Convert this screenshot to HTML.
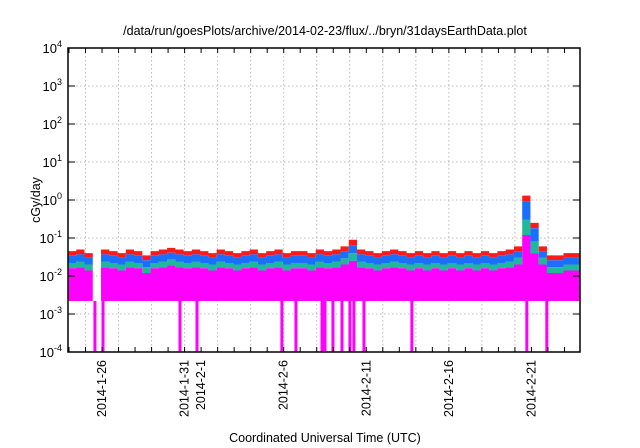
<!DOCTYPE html>
<html><head><meta charset="utf-8"><style>
body{margin:0;background:#fff;}
svg{display:block;font-family:"Liberation Sans",sans-serif;}
</style></head><body>
<svg id="chart" width="640" height="448" viewBox="0 0 640 448">
<text x="325" y="35" font-size="12.5" text-anchor="middle">/data/run/goesPlots/archive/2014-02-23/flux/../bryn/31daysEarthData.plot</text>
<text transform="translate(40,200) rotate(-90)" font-size="12.5" text-anchor="middle">cGy/day</text>
<text x="325" y="442" font-size="12.5" text-anchor="middle">Coordinated Universal Time (UTC)</text>
<g id="grid"></g><g id="series"></g><g id="axes"></g>
</svg>
<script>
const red=[0.045,0.05,0.04,null,0.05,0.045,0.04,0.05,0.045,0.035,0.045,0.05,0.055,0.05,0.045,0.05,0.045,0.04,0.05,0.045,0.04,0.045,0.05,0.04,0.045,0.05,0.04,0.045,0.045,0.04,0.05,0.045,0.05,0.06,0.09,0.05,0.045,0.04,0.045,0.05,0.045,0.04,0.045,0.04,0.045,0.04,0.045,0.04,0.045,0.04,0.045,0.04,0.045,0.05,0.06,1.3,0.25,0.06,0.035,0.035,0.04,0.04];
const blue=[0.034,0.037,0.03,null,0.037,0.034,0.03,0.037,0.034,0.026,0.034,0.037,0.041,0.037,0.034,0.037,0.034,0.03,0.037,0.034,0.03,0.034,0.037,0.03,0.034,0.037,0.03,0.034,0.034,0.03,0.037,0.034,0.037,0.045,0.065,0.037,0.034,0.03,0.034,0.037,0.034,0.03,0.034,0.03,0.034,0.03,0.034,0.03,0.034,0.03,0.034,0.03,0.034,0.037,0.045,0.9,0.18,0.045,0.026,0.026,0.03,0.03];
const green=[0.022,0.024,0.02,null,0.024,0.022,0.02,0.024,0.022,0.017,0.022,0.024,0.027,0.024,0.022,0.024,0.022,0.02,0.024,0.022,0.02,0.022,0.024,0.02,0.022,0.024,0.02,0.022,0.022,0.02,0.024,0.022,0.024,0.029,0.04,0.024,0.022,0.02,0.022,0.024,0.022,0.02,0.022,0.02,0.022,0.02,0.022,0.02,0.022,0.02,0.022,0.02,0.022,0.024,0.03,0.3,0.08,0.03,0.017,0.017,0.02,0.02];
const magenta=[0.016,0.017,0.014,null,0.017,0.016,0.014,0.017,0.016,0.012,0.016,0.017,0.019,0.017,0.016,0.017,0.016,0.014,0.017,0.016,0.014,0.016,0.017,0.014,0.016,0.017,0.014,0.016,0.016,0.014,0.017,0.016,0.017,0.02,0.025,0.017,0.016,0.014,0.016,0.017,0.016,0.014,0.016,0.014,0.016,0.014,0.016,0.014,0.016,0.014,0.016,0.014,0.016,0.017,0.02,0.12,0.04,0.02,0.012,0.012,0.014,0.014];
const magentaFloor=0.0022;
const drops=[1.63,2.12,6.78,7.81,12.95,13.8,15.38,15.56,16.04,16.59,17.07,17.31,17.92,20.82,27.78,28.99];
const tickLabels=["2014-1-26","2014-1-31","2014-2-1","2014-2-6","2014-2-11","2014-2-16","2014-2-21"];
const tickDays=[2.06,7.06,8.06,13.06,18.06,23.06,28.06];
const yExps=[-4,-3,-2,-1,0,1,2,3,4];
const binDays=0.5, totalDays=31;

const L=68,R=580,T=48,B=352;
const NS="http://www.w3.org/2000/svg";
const xs=d=>L+d/totalDays*(R-L);
const ys=v=>B-(Math.log10(v)+4)/8*(B-T);
function mk(tag,attrs,parent){const e=document.createElementNS(NS,tag);for(const k in attrs)e.setAttribute(k,attrs[k]);parent.appendChild(e);return e;}
const grid=document.getElementById('grid'),ser=document.getElementById('series'),ax=document.getElementById('axes');
// grid
yExps.forEach(p=>{if(p>-4&&p<4){const g=mk('line',{x1:L,x2:R,y1:ys(Math.pow(10,p)),y2:ys(Math.pow(10,p)),stroke:'#bbb','stroke-dasharray':'1.5,2.5','stroke-width':1},grid);

}});
for(let d=1.06;d<totalDays;d+=2){const g=mk('line',{x1:xs(d),x2:xs(d),y1:T,y2:B,stroke:'#bbb','stroke-dasharray':'1.5,2.5','stroke-width':1},grid);

}
// series
function area(top,bottom,color,name){
  let segs=[],cur=[];
  top.forEach((v,i)=>{if(v===null){if(cur.length)segs.push(cur);cur=[];return;}
    const lo=Array.isArray(bottom)?bottom[i]:bottom;cur.push([i*binDays,(i+1)*binDays,v,lo]);});
  if(cur.length)segs.push(cur);
  segs.forEach(s=>{let d='M'+xs(s[0][0])+','+ys(s[0][3]);
    s.forEach(b=>{d+=' L'+xs(b[0])+','+ys(b[2])+' L'+xs(b[1])+','+ys(b[2]);});
    for(let k=s.length-1;k>=0;k--){d+=' L'+xs(s[k][1])+','+ys(s[k][3])+' L'+xs(s[k][0])+','+ys(s[k][3]);}
    const p=mk('path',{d:d+'Z',fill:color},ser);
    
    });
}
area(red,blue,'#ff1a1a','series-red');
area(blue,green,'#1a6fff','series-blue');
area(green,magenta,'#20b89a','series-green');
area(magenta,magentaFloor,'#ff00ff','series-magenta');
drops.forEach(d=>{const r=mk('rect',{x:xs(d)-1.5,y:ys(magentaFloor),width:3,height:B-ys(magentaFloor),fill:'#ff00ff'},ser);

});
// axes frame
const f=mk('rect',{x:L,y:T,width:R-L,height:B-T,fill:'none',stroke:'#000','stroke-width':1.5},ax);


yExps.forEach(p=>{const y=ys(Math.pow(10,p));
  mk('line',{x1:L,x2:L+7,y1:y,y2:y,stroke:'#000'},ax);mk('line',{x1:R,x2:R-7,y1:y,y2:y,stroke:'#000'},ax);
  const t=mk('text',{x:L-6,y:y+5,'font-size':13,'text-anchor':'end'},ax);
  
  
  t.appendChild(document.createTextNode('10'));
  const s=mk('tspan',{dy:-6,'font-size':9},t);s.textContent=String(p);});
for(let d=0.06;d<totalDays;d+=1){const x=xs(d);
  mk('line',{x1:x,x2:x,y1:B,y2:B-5,stroke:'#000'},ax);mk('line',{x1:x,x2:x,y1:T,y2:T+5,stroke:'#000'},ax);}
tickDays.forEach((d,i)=>{const x=xs(d);
  const t=mk('text',{transform:'translate('+(x+4)+','+(B+8)+') rotate(-90)','font-size':12.5,'text-anchor':'end'},ax);
  
  
  t.textContent=tickLabels[i];});
</script>
</body></html>
